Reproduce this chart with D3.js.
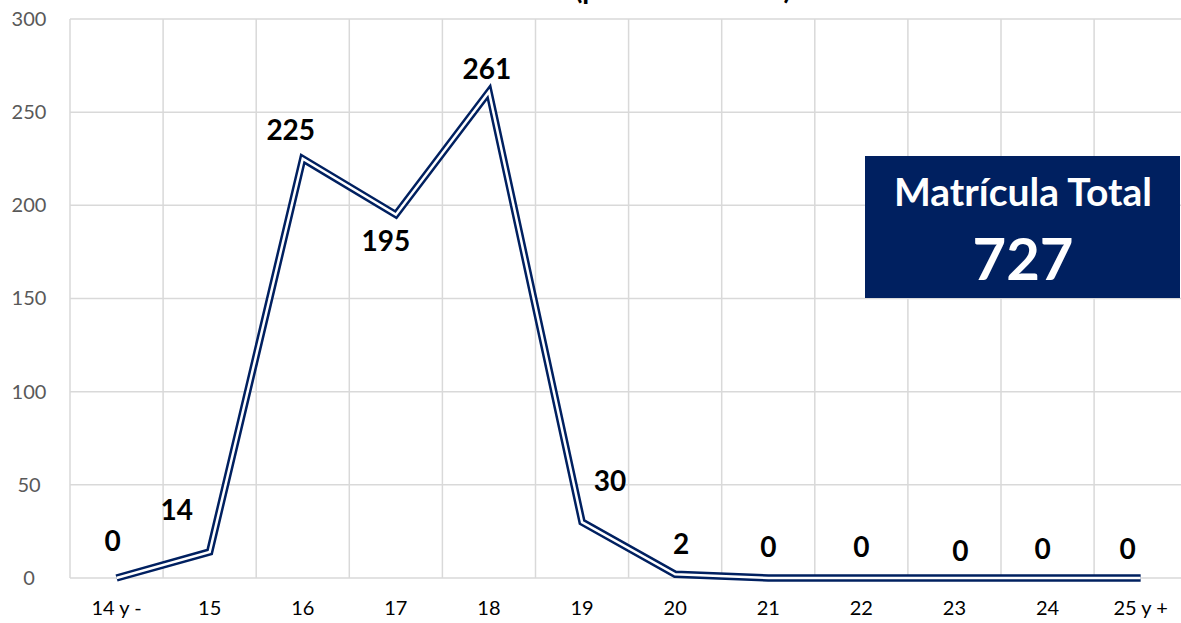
<!DOCTYPE html>
<html>
<head>
<meta charset="utf-8">
<script src="https://cdn.jsdelivr.net/npm/d3@7"></script>
<style>
  html, body { margin: 0; padding: 0; background: #fff; }
  svg { display: block; }
</style>
</head>
<body>
<svg id="chart" width="1181" height="623"></svg>
<script>
// Enrolment by age group
const categories = ["14 y -", "15", "16", "17", "18", "19", "20", "21", "22", "23", "24", "25 y +"];
const values = [0, 14, 225, 195, 261, 30, 2, 0, 0, 0, 0, 0];
const yTicks = [0, 50, 100, 150, 200, 250, 300];
const totalLabel = "Matrícula Total";
const totalValue = 727;
const titleText = "(primer semestre)";

// label placement relative to each point (dx, dy)
const labelOffsets = [
  [-4, -37], [-33, -42], [-12, -29], [-10, 27], [-2, -22], [28, -41],
  [6, -30], [0, -31], [0, -31], [6, -27], [-5, -29], [-13, -29]
];

const svg = d3.select("#chart");
const W = 1181, H = 623;
const margin = { left: 70, top: 19, bottom: 45 };
const plotW = 93.1 * categories.length;

const x = d3.scaleBand().domain(categories).range([margin.left, margin.left + plotW]);
const y = d3.scaleLinear().domain([0, 300]).range([H - margin.bottom, margin.top]);

const font = "Lato, 'Open Sans', sans-serif";

// title (runs off the top edge)
svg.append("text")
  .attr("x", 683).attr("y", -1)
  .attr("text-anchor", "middle")
  .attr("font-family", font).attr("font-weight", 700)
  .attr("font-size", 28).attr("fill", "#000")
  .text(titleText);

// horizontal grid
svg.append("g")
  .selectAll("line").data(yTicks).join("line")
  .attr("x1", margin.left).attr("x2", margin.left + plotW)
  .attr("y1", d => y(d)).attr("y2", d => y(d))
  .attr("stroke", "#d9d9d9").attr("stroke-width", 1.5);

// vertical grid at category boundaries
const bounds = categories.map(c => x(c)).concat([margin.left + plotW]);
svg.append("g")
  .selectAll("line").data(bounds).join("line")
  .attr("x1", d => d).attr("x2", d => d)
  .attr("y1", y(300)).attr("y2", y(0))
  .attr("stroke", "#d9d9d9").attr("stroke-width", 1.5);

// y axis labels
const yAxis = d3.axisLeft(y).tickValues(yTicks).tickSize(0).tickPadding(0);
const gy = svg.append("g").attr("transform", `translate(${margin.left},0)`).call(yAxis);
gy.select(".domain").remove();
gy.selectAll("text")
  .attr("font-family", font).attr("font-size", 20).attr("fill", "#595959")
  .attr("text-anchor", "middle").attr("x", -41);

// x axis labels
const xAxis = d3.axisBottom(x).tickSize(0).tickPadding(23);
const gx = svg.append("g").attr("transform", `translate(0,${y(0)})`).call(xAxis);
gx.select(".domain").remove();
gx.selectAll("text")
  .attr("font-family", font).attr("font-size", 20).attr("fill", "#000");

// double line: navy outline with white core
const line = d3.line()
  .x((d, i) => x(categories[i]) + x.bandwidth() / 2)
  .y(d => y(d));

svg.append("path").datum(values)
  .attr("d", line).attr("fill", "none")
  .attr("stroke", "#002060").attr("stroke-width", 7.5)
  .attr("stroke-linejoin", "miter").attr("stroke-miterlimit", 10);
svg.append("path").datum(values)
  .attr("d", line).attr("fill", "none")
  .attr("stroke", "#fff").attr("stroke-width", 2.5)
  .attr("stroke-linejoin", "miter").attr("stroke-miterlimit", 10);

// value labels
svg.append("g")
  .selectAll("text").data(values).join("text")
  .attr("x", (d, i) => x(categories[i]) + x.bandwidth() / 2 + labelOffsets[i][0])
  .attr("y", (d, i) => y(d) + labelOffsets[i][1])
  .attr("dy", "0.35em")
  .attr("text-anchor", "middle")
  .attr("font-family", font).attr("font-weight", 700)
  .attr("font-size", 28).attr("fill", "#000")
  .text(d => d);

// total box
const box = svg.append("g");
box.append("rect")
  .attr("x", 865).attr("y", 156).attr("width", 315).attr("height", 142)
  .attr("fill", "#002060");
box.append("text")
  .attr("x", 1023).attr("y", 206)
  .attr("text-anchor", "middle")
  .attr("font-family", font).attr("font-weight", 700)
  .attr("font-size", 39).attr("fill", "#fff")
  .text(totalLabel);
box.append("text")
  .attr("x", 1023).attr("y", 280)
  .attr("text-anchor", "middle")
  .attr("font-family", font).attr("font-weight", 700)
  .attr("font-size", 58).attr("fill", "#fff")
  .text(totalValue);
</script>
</body>
</html>
